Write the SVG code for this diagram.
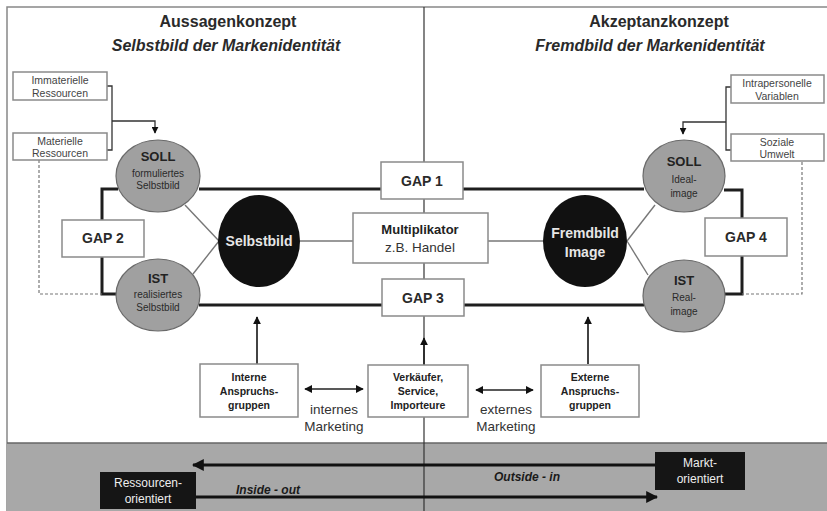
<svg xmlns="http://www.w3.org/2000/svg" width="827" height="511" viewBox="0 0 827 511">
  <style>
    .t { font-family: "Liberation Sans", Arial, sans-serif; fill: #2a2a2a; text-anchor: middle; }
    .title { font-size: 16px; font-weight: bold; }
    .sub { font-size: 16px; font-weight: bold; font-style: italic; }
    .small { font-size: 10.5px; fill: #444; }
    .box { fill: #fff; stroke: #8a8a8a; stroke-width: 1.5; }
    .gap { font-size: 14px; font-weight: bold; }
    .circ { fill: #a0a0a0; stroke: #6a6a6a; stroke-width: 1.2; }
    .dark { fill: #111; }
    .ctitle { font-size: 13px; font-weight: bold; fill: #222; }
    .csub { font-size: 10px; fill: #2a2a2a; }
    .wt { font-size: 14px; font-weight: bold; fill: #e6e6e6; }
    .thick { stroke: #1e1e1e; stroke-width: 3; fill: none; }
    .thin { stroke: #777; stroke-width: 1.4; fill: none; }
    .conn { stroke: #333; stroke-width: 1.3; fill: none; }
    .dash { stroke: #777; stroke-width: 1.2; fill: none; stroke-dasharray: 3 2; }
    .arr { stroke: #222; stroke-width: 1.7; fill: none; }
    .bold10 { font-size: 10.5px; font-weight: bold; fill: #222; }
    .mk { font-size: 13.5px; fill: #333; }
    .band { fill: #a8a8a8; }
    .bx { fill: #151515; }
    .bt { font-size: 12px; fill: #eee; }
    .it { font-size: 12px; font-weight: bold; font-style: italic; fill: #1a1a1a; }
  </style>
  <defs>
    <marker id="ah" viewBox="0 0 10 10" refX="9" refY="5" markerWidth="8" markerHeight="8" orient="auto-start-reverse" markerUnits="userSpaceOnUse">
      <path d="M0,0 L10,5 L0,10 z" fill="#111"/>
    </marker>
    <marker id="ahs" viewBox="0 0 10 10" refX="9" refY="5" markerWidth="7" markerHeight="7" orient="auto-start-reverse" markerUnits="userSpaceOnUse">
      <path d="M0,0 L10,5 L0,10 z" fill="#111"/>
    </marker>
    <marker id="ahb" viewBox="0 0 10 10" refX="9" refY="5" markerWidth="12" markerHeight="12" orient="auto-start-reverse" markerUnits="userSpaceOnUse">
      <path d="M0,0 L10,5 L0,10 z" fill="#111"/>
    </marker>
  </defs>

  <!-- page -->
  <rect x="0" y="0" width="827" height="511" fill="#fff"/>
  <rect x="7" y="7" width="830" height="520" fill="none" stroke="#888" stroke-width="1.5"/>

  <!-- bottom band -->
  <rect class="band" x="7" y="443" width="820" height="68"/>
  <line x1="7" y1="443" x2="827" y2="443" stroke="#666" stroke-width="1.5"/>

  <!-- central divider -->
  <line x1="424" y1="7" x2="424" y2="511" stroke="#333" stroke-width="1.2"/>

  <!-- headings -->
  <text class="t title" x="228" y="27">Aussagenkonzept</text>
  <text class="t sub" x="226" y="51">Selbstbild der Markenidentität</text>
  <text class="t title" x="659" y="27">Akzeptanzkonzept</text>
  <text class="t sub" x="650" y="51">Fremdbild der Markenidentität</text>

  <!-- connectors -->
  <g id="connectors">
    <!-- thick frame between SOLL/IST and GAP boxes -->
    <polyline class="thick" points="118,189 102,189 102,294 118,294"/>
    <line class="thick" x1="199" y1="189" x2="644" y2="189"/>
    <line class="thick" x1="199" y1="305" x2="644" y2="305"/>
    <polyline class="thick" points="724,190 742,190 742,294 725,294"/>
    <!-- thin links to self/foreign image -->
    <line class="thin" x1="185" y1="205" x2="219" y2="241"/>
    <line class="thin" x1="193" y1="274" x2="219" y2="241"/>
    <line class="thin" x1="300" y1="241" x2="353" y2="241"/>
    <line class="thin" x1="488" y1="241" x2="543" y2="241"/>
    <line class="thin" x1="627" y1="241" x2="655" y2="205"/>
    <line class="thin" x1="627" y1="241" x2="648" y2="275"/>
    <!-- resource bracket -->
    <polyline class="conn" points="107,86 112,86 112,150 107,150"/>
    <polyline class="conn" points="112,121 155,121 155,133" marker-end="url(#ahs)"/>
    <!-- consumer bracket -->
    <polyline class="conn" points="731,87 726,87 726,150 731,150"/>
    <polyline class="conn" points="726,122 683,122 683,134" marker-end="url(#ahs)"/>
    <!-- dashed feedback lines -->
    <polyline class="dash" points="39,160 39,294 102,294"/>
    <polyline class="dash" points="802,162 802,294 742,294"/>
    <!-- influences from below -->
    <line class="arr" x1="257" y1="364" x2="257" y2="317" marker-end="url(#ah)"/>
    <line class="arr" x1="588" y1="364" x2="588" y2="317" marker-end="url(#ah)"/>
    <line class="arr" x1="424" y1="365" x2="424" y2="338" marker-end="url(#ah)"/>
    <line class="arr" x1="305" y1="389" x2="363" y2="389" marker-start="url(#ah)" marker-end="url(#ah)"/>
    <line class="arr" x1="476" y1="390" x2="533" y2="390" marker-start="url(#ah)" marker-end="url(#ah)"/>
    <!-- orientation arrows -->
    <line x1="655" y1="465" x2="193" y2="465" stroke="#111" stroke-width="3" marker-end="url(#ahb)"/>
    <line x1="196" y1="497" x2="657" y2="497" stroke="#111" stroke-width="3" marker-end="url(#ahb)"/>
  </g>

  <!-- left side inputs -->
  <g id="immaterielle">
    <rect class="box" x="13" y="72" width="94" height="28"/>
    <text class="t small" x="60" y="84">Immaterielle</text>
    <text class="t small" x="60" y="97">Ressourcen</text>
  </g>
  <g id="materielle">
    <rect class="box" x="13" y="133" width="94" height="27"/>
    <text class="t small" x="60" y="145">Materielle</text>
    <text class="t small" x="60" y="157">Ressourcen</text>
  </g>

  <!-- right side inputs -->
  <g id="intrapersonelle">
    <rect class="box" x="731" y="75" width="93" height="28"/>
    <text class="t small" x="777" y="87">Intrapersonelle</text>
    <text class="t small" x="777" y="100">Variablen</text>
  </g>
  <g id="soziale">
    <rect class="box" x="731" y="134" width="93" height="27"/>
    <text class="t small" x="777" y="146">Soziale</text>
    <text class="t small" x="777" y="158">Umwelt</text>
  </g>

  <!-- self image side -->
  <g id="soll-selbst">
    <ellipse class="circ" cx="158" cy="176" rx="42" ry="36"/>
    <text class="t ctitle" x="158" y="161">SOLL</text>
    <text class="t csub" x="158" y="177">formuliertes</text>
    <text class="t csub" x="158" y="189">Selbstbild</text>
  </g>
  <g id="ist-selbst">
    <ellipse class="circ" cx="158" cy="295" rx="42" ry="36"/>
    <text class="t ctitle" x="158" y="283">IST</text>
    <text class="t csub" x="158" y="298">realisiertes</text>
    <text class="t csub" x="158" y="311">Selbstbild</text>
  </g>
  <g id="gap2">
    <rect class="box" x="62" y="220" width="82" height="37"/>
    <text class="t gap" x="103" y="243">GAP 2</text>
  </g>
  <g id="selbstbild">
    <ellipse class="dark" cx="259" cy="241" rx="41" ry="46"/>
    <text class="t wt" x="259" y="246">Selbstbild</text>
  </g>

  <!-- centre column -->
  <g id="gap1">
    <rect class="box" x="381" y="162" width="82" height="37"/>
    <text class="t gap" x="422" y="186">GAP 1</text>
  </g>
  <g id="multiplikator">
    <rect class="box" x="353" y="213" width="135" height="50"/>
    <text class="t ctitle" x="420" y="234">Multiplikator</text>
    <text class="t mk" x="420" y="252">z.B. Handel</text>
  </g>
  <g id="gap3">
    <rect class="box" x="382" y="279" width="82" height="37"/>
    <text class="t gap" x="423" y="303">GAP 3</text>
  </g>

  <!-- foreign image side -->
  <g id="fremdbild">
    <ellipse class="dark" cx="585" cy="241" rx="42" ry="46"/>
    <text class="t wt" x="585" y="238">Fremdbild</text>
    <text class="t wt" x="585" y="257">Image</text>
  </g>
  <g id="soll-ideal">
    <ellipse class="circ" cx="684" cy="176" rx="41" ry="36"/>
    <text class="t ctitle" x="684" y="166">SOLL</text>
    <text class="t csub" x="684" y="183">Ideal-</text>
    <text class="t csub" x="684" y="197">image</text>
  </g>
  <g id="ist-real">
    <ellipse class="circ" cx="684" cy="296" rx="41" ry="36"/>
    <text class="t ctitle" x="684" y="285">IST</text>
    <text class="t csub" x="684" y="301">Real-</text>
    <text class="t csub" x="684" y="315">image</text>
  </g>
  <g id="gap4">
    <rect class="box" x="705" y="218" width="82" height="38"/>
    <text class="t gap" x="746" y="242">GAP 4</text>
  </g>

  <!-- stakeholder groups -->
  <g id="interne">
    <rect class="box" x="200" y="364" width="98" height="53"/>
    <text class="t bold10" x="249" y="381">Interne</text>
    <text class="t bold10" x="249" y="395">Anspruchs-</text>
    <text class="t bold10" x="249" y="409">gruppen</text>
  </g>
  <g id="verkaeufer">
    <rect class="box" x="368" y="365" width="100" height="52"/>
    <text class="t bold10" x="418" y="381">Verkäufer,</text>
    <text class="t bold10" x="418" y="395">Service,</text>
    <text class="t bold10" x="418" y="409">Importeure</text>
  </g>
  <g id="externe">
    <rect class="box" x="541" y="365" width="98" height="52"/>
    <text class="t bold10" x="590" y="381">Externe</text>
    <text class="t bold10" x="590" y="395">Anspruchs-</text>
    <text class="t bold10" x="590" y="409">gruppen</text>
  </g>
  <g id="internes-marketing">
    <text class="t mk" x="334" y="414">internes</text>
    <text class="t mk" x="334" y="431">Marketing</text>
  </g>
  <g id="externes-marketing">
    <text class="t mk" x="506" y="414">externes</text>
    <text class="t mk" x="506" y="431">Marketing</text>
  </g>

  <!-- orientation band -->
  <g id="markt">
    <rect class="bx" x="655" y="452" width="90" height="38"/>
    <text class="t bt" x="700" y="467">Markt-</text>
    <text class="t bt" x="700" y="483">orientiert</text>
  </g>
  <g id="ressourcen">
    <rect class="bx" x="100" y="472" width="96" height="37"/>
    <text class="t bt" x="148" y="487">Ressourcen-</text>
    <text class="t bt" x="148" y="503">orientiert</text>
  </g>
  <text class="t it" x="527" y="481">Outside - in</text>
  <text class="t it" x="268" y="494">Inside - out</text>
</svg>
